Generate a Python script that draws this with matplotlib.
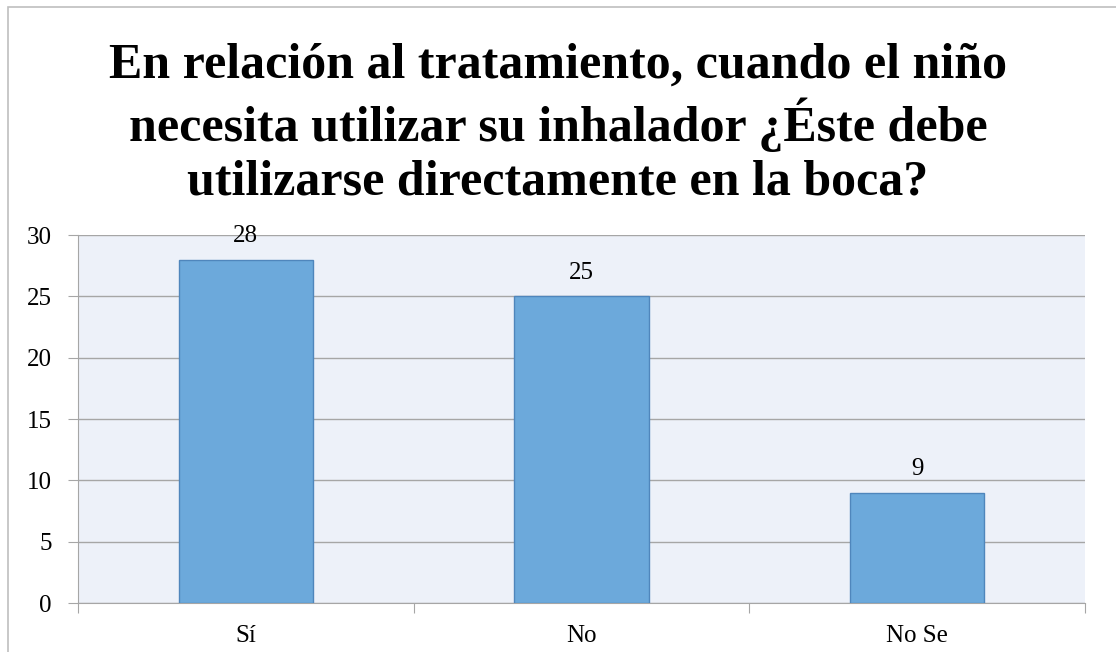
import matplotlib.pyplot as plt
from matplotlib.patches import Rectangle

categories = ['Sí', 'No', 'No Se']
values = [28, 25, 9]
title = 'En relación al tratamiento, cuando el niño\nnecesita utilizar su inhalador ¿Éste debe\nutilizarse directamente en la boca?'

plt.rcParams['font.family'] = 'Liberation Serif'

W, H = 1116, 652
fig = plt.figure(figsize=(W / 100, H / 100), dpi=100)

# chart frame (left/top only visible)
fig.patches.append(Rectangle((8 / W, -0.1), 1.2, (H - 7) / H + 0.1, transform=fig.transFigure,
                             fill=False, edgecolor='#BFBFBF', linewidth=1.2))

ax = fig.add_axes([78 / W, (H - 603) / H, (1085 - 78) / W, (603 - 235) / H])
ax.set_facecolor('#EDF1F9')

x = range(len(categories))
ax.bar(x, values, width=0.4, color='#6CA9DB', edgecolor='#4F86BC', linewidth=1, zorder=3)
for i, v in enumerate(values):
    ax.text(i, v + 1.45, str(v), ha='center', va='baseline', fontsize=18, zorder=4)

ax.set_xlim(-0.5, len(categories) - 0.5)
ax.set_ylim(0, 30)
ax.set_yticks(range(0, 31, 5))
ax.yaxis.grid(True, color='#A6A6A6', linewidth=1, zorder=0)
ax.set_xticks([-0.5, 0.5, 1.5, 2.5])
ax.set_xticks(list(x), minor=True)
ax.set_xticklabels([''] * 4)
ax.set_xticklabels(categories, minor=True)
ax.tick_params(axis='x', which='major', length=7, color='#A6A6A6', direction='out')
ax.tick_params(axis='x', which='minor', length=0, pad=16, labelsize=18)
ax.tick_params(axis='y', length=7, color='#A6A6A6', labelsize=18, pad=12)

for s in ['top', 'right']:
    ax.spines[s].set_visible(False)
for s in ['left', 'bottom']:
    ax.spines[s].set_color('#A6A6A6')

# multi-line baseline alignment anchors the last line
fig.text(0.5, 1 - 195 / H, title, ha='center', va='baseline', fontsize=36,
         fontweight='bold', linespacing=1.22)

plt.savefig('out.png', dpi=100)
